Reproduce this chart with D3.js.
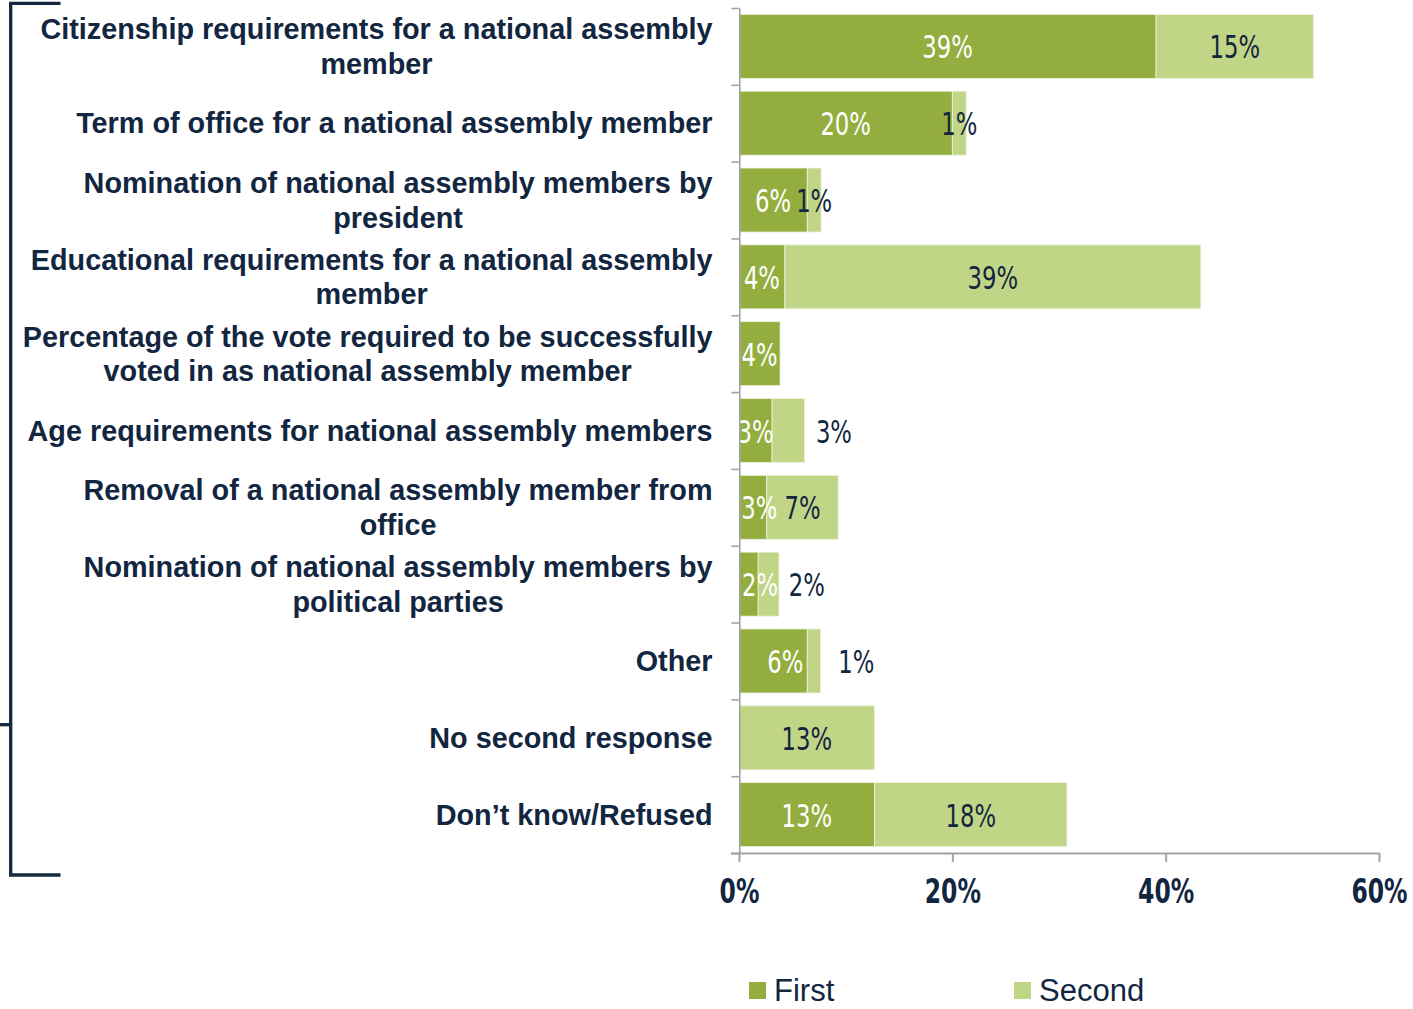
<!DOCTYPE html>
<html>
<head>
<meta charset="utf-8">
<script src="https://cdn.jsdelivr.net/npm/d3@7/dist/d3.min.js"></script>
<style>
  html, body { margin: 0; padding: 0; background: #ffffff; }
  svg { display: block; }
</style>
</head>
<body>
<svg id="chart" width="1413" height="1009"></svg>
<script>
// ---------------- data ----------------
const categories = [
  ["Citizenship requirements for a national assembly", "member"],
  ["Term of office for a national assembly member"],
  ["Nomination of national assembly members by", "president"],
  ["Educational requirements for a national assembly", "member"],
  ["Percentage of the vote required to be successfully", "voted in as national assembly member"],
  ["Age requirements for national assembly members"],
  ["Removal of a national assembly member from", "office"],
  ["Nomination of national assembly members by", "political parties"],
  ["Other"],
  ["No second response"],
  ["Don’t know/Refused"]
];
const firstValues  = [39.1, 20.0, 6.4, 4.3, 3.85, 3.1, 2.6, 1.8, 6.4, 0, 12.7];
const secondValues = [14.75, 1.3, 1.3, 39.0, 0, 3.05, 6.7, 1.95, 1.25, 12.7, 18.05];
const seriesNames  = ["First", "Second"];
const xTickValues  = [0, 20, 40, 60];

// label placement (value-axis units) where the original moved a label away from segment centre
const firstLabelAt  = {6: 1.9, 7: 1.97, 8: 4.35};
const secondLabelAt = {5: 8.9, 7: 6.35, 8: 11.0};

// ---------------- style ----------------
const colFirst = "#93ae3e";
const colSecond = "#c1d587";
const navy = "#12263f";
const axisGray = "#a3a3a3";
const narrowFont = "'DejaVu Sans Condensed', 'DejaVu Sans', sans-serif";
const squeeze = 0.79;

const svg = d3.select("#chart");

const x = d3.scaleLinear().domain([0, 60]).range([739, 1379]);
const idx = d3.range(categories.length);
const y = d3.scaleBand().domain(idx).range([8, 853]).paddingInner(0.167).paddingOuter(0.083);
const yEdge = d3.scaleLinear().domain([0, categories.length]).range([8, 853]);

// bracket on the left
svg.append("path")
  .attr("d", "M60.5,3.3 H10.7 V875 H60.5")
  .attr("fill", "none").attr("stroke", "#14283f").attr("stroke-width", 3.3);
svg.append("path")
  .attr("d", "M0,724.7 H12")
  .attr("fill", "none").attr("stroke", "#14283f").attr("stroke-width", 3.3);

// bars
const stackData = idx.map(i => ({i, first: firstValues[i], second: secondValues[i]}));
const series = d3.stack().keys(["first", "second"])(stackData);
const colors = [colFirst, colSecond];

series.forEach((s, si) => {
  svg.append("g").selectAll("rect").data(s).join("rect")
    .attr("x", d => x(d[0]))
    .attr("y", d => y(d.data.i))
    .attr("width", d => Math.max(0, x(d[1]) - x(d[0])))
    .attr("height", y.bandwidth())
    .attr("fill", colors[si])
    .attr("stroke", "#eef3e0").attr("stroke-width", 0.8);
});

// bar labels
series.forEach((s, si) => {
  const overrides = si === 0 ? firstLabelAt : secondLabelAt;
  svg.append("g").selectAll("text").data(s.filter(d => Math.round(d[1] - d[0]) > 0)).join("text")
    .attr("transform", d => {
      const i = d.data.i;
      const cx = overrides[i] !== undefined ? x(overrides[i]) : x((d[0] + d[1]) / 2);
      const cy = y(i) + y.bandwidth() / 2 + 12;
      return `translate(${cx},${cy}) scale(${squeeze},1)`;
    })
    .attr("text-anchor", "middle")
    .attr("font-family", narrowFont)
    .attr("font-size", 32)
    .attr("fill", si === 0 ? "#ffffff" : navy)
    .text(d => Math.round(d[1] - d[0]) + "%");
});

// category axis (left), ticks at band boundaries
const yAxisG = svg.append("g").attr("transform", "translate(739.3,0)")
  .call(d3.axisLeft(yEdge).tickValues(d3.range(categories.length + 1)).tickFormat("").tickSize(8).tickSizeOuter(0));
yAxisG.selectAll("path, line").attr("stroke", axisGray).attr("stroke-width", 1.6);

// value axis (bottom)
const xAxisG = svg.append("g").attr("transform", "translate(0,853)")
  .call(d3.axisBottom(x).tickValues(xTickValues).tickFormat(d => d + "%").tickSize(9).tickSizeOuter(0));
xAxisG.selectAll("path, line").attr("stroke", axisGray).attr("stroke-width", 2);
xAxisG.select(".domain").attr("d", "M731,0.5H1379.5");
xAxisG.selectAll("text")
  .attr("y", null).attr("dy", null)
  .attr("transform", `translate(0,50) scale(${squeeze},1)`)
  .attr("font-family", narrowFont)
  .attr("font-weight", "bold")
  .attr("font-size", 33)
  .attr("fill", navy);

// category labels
const catFont = "'Liberation Sans', Arial, sans-serif";
const catSize = 28.8;
const lineH = 34.5;
const rightEdge = 712.5;
const catG = svg.append("g");
idx.forEach(i => {
  const lines = categories[i];
  const cy = y(i) + y.bandwidth() / 2;
  const g = catG.append("g");
  const texts = lines.map((ln, k) => g.append("text")
    .attr("font-family", catFont)
    .attr("font-weight", "bold")
    .attr("font-size", catSize)
    .attr("fill", navy)
    .attr("text-anchor", "middle")
    .attr("y", cy + (k - (lines.length - 1) / 2) * lineH + 10.3)
    .text(ln));
  const maxW = d3.max(texts, t => t.node().getComputedTextLength());
  texts.forEach(t => t.attr("x", rightEdge - maxW / 2));
});

// legend
const legendX = [749, 1014];
seriesNames.forEach((name, k) => {
  svg.append("rect")
    .attr("x", legendX[k]).attr("y", 982).attr("width", 17).attr("height", 17)
    .attr("fill", colors[k]);
  svg.append("text")
    .attr("x", legendX[k] + 25).attr("y", 1001)
    .attr("font-family", "'Liberation Sans', Arial, sans-serif")
    .attr("font-size", 31)
    .attr("fill", navy)
    .text(name);
});
</script>
</body>
</html>
